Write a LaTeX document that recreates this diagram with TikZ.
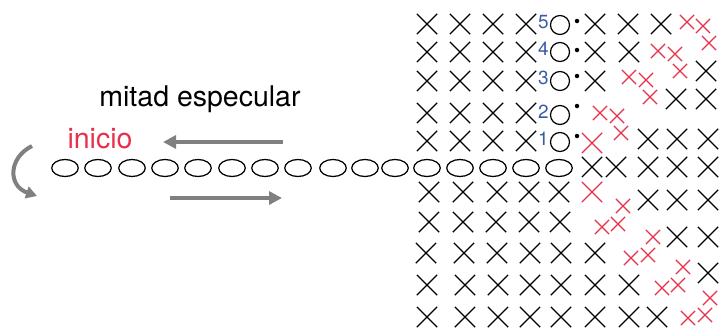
\documentclass[tikz,border=0pt]{standalone}
\usepackage{fontspec}
\setmainfont{TeX Gyre Heros}
\usetikzlibrary{shapes.misc,shapes.geometric,arrows.meta}
\definecolor{xred}{HTML}{E8304A}
\definecolor{numblue}{HTML}{3B5BA5}
\definecolor{agray}{HTML}{808080}
\tikzset{
  bx/.style={cross out,draw=black,line width=1.25pt,minimum size=19pt,inner sep=0pt},
  rxl/.style={cross out,draw=xred,line width=1.25pt,minimum size=19pt,inner sep=0pt},
  rxs/.style={cross out,draw=xred,line width=1.2pt,minimum size=13pt,inner sep=0pt},
  link/.style={ellipse,draw=black,line width=1.25pt,minimum width=26.5pt,minimum height=17pt,inner sep=0pt},
  ring/.style={circle,draw=black,line width=1.25pt,minimum size=19pt,inner sep=0pt},
  num/.style={text=numblue,font=\fontsize{19}{19}\selectfont,inner sep=0pt,anchor=east},
  dotm/.style={circle,fill=black,minimum size=4.5pt,inner sep=0pt},
  garrow/.style={draw=agray,line width=4pt,-{Triangle[length=13pt,width=13pt]}},
  lbl/.style={font=\fontsize{28.5}{28.5}\selectfont,inner sep=0pt,anchor=base}
}
\begin{document}
\begin{tikzpicture}[x=1pt,y=-1pt]
\useasboundingbox (0,0) rectangle (721,327);
% chain of ellipses
\foreach \x [count=\i] in {65,98,132,165,198,232,265,298,333,365,395,427,460,493,526,559}
  \node[link] (ch\i) at (\x,168) {};
% rings with numbers and dots
\foreach \y/\n/\dy in {25/5/21,52/4/50,81/3/76,115/2/106,142/1/136}{
  \node[ring] (r\n) at (560,\y) {};
  \node[num] (n\n) at (549,\y-3) {\n};
  \node[dotm] (d\n) at (577,\dy) {};
}
% black crosses
\foreach \x/\y [count=\i] in {
  427/24,460/24,493/24,526/24,595/24,628/24,661/24,
  427/52,460/52,493/52,526/52,595/52,629/52,
  427/81,460/81,493/81,526/81,595/81,706/71,
  676/99,706/99,
  427/113,460/113,493/113,526/113,
  427/141,460/141,493/141,526/141,648/139,677/139,708/139,
  592/167,616/167,648/167,677/167,708/167,
  429/192,463/192,497/192,529/192,559/192,648/200,677/200,708/200,
  429/222,463/222,496/222,529/222,560/222,677/237,708/237,
  426/253,464/253,497/253,530/253,561/253,595/253,708/273,
  427/285,465/285,498/285,530/285,561/285,595/285,629/285,
  427/317,465/317,498/317,530/317,561/317,595/317,629/317,657/317}
  \node[bx] (b\i) at (\x,\y) {};
% red crosses, large
\node[rxl] (rl1) at (592,143) {};
\node[rxl] (rl2) at (592,192) {};
% red crosses, small
\foreach \x/\y [count=\i] in {
  687/22,703/26,709/43,658/51,675/54,629/77,646/80,680/71,650/97,
  600/113,617/116,621/133,623/206,602/227,618/224,653/237,
  631/258,648/255,683/267,662/288,678/285,710/298,688/318,705/315}
  \node[rxs] (rs\i) at (\x,\y) {};
% labels
\node[lbl] (mirror) at (200,106) {mitad especular};
\node[lbl,text=xred] (start) at (100,148) {inicio};
% arrows
\coordinate (la) at (283,142);
\coordinate (lb) at (163,142);
\coordinate (ra) at (170,198);
\coordinate (rb) at (282,198);
\draw[garrow] (la) -- (lb);
\draw[garrow] (ra) -- (rb);
\coordinate (ca) at (32,146);
\coordinate (cb) at (37,196);
\draw[draw=agray,line width=4pt,-{Triangle[length=11pt,width=12pt]}] (ca) .. controls (8,158) and (8,186) .. (cb);
\end{tikzpicture}
\end{document}
